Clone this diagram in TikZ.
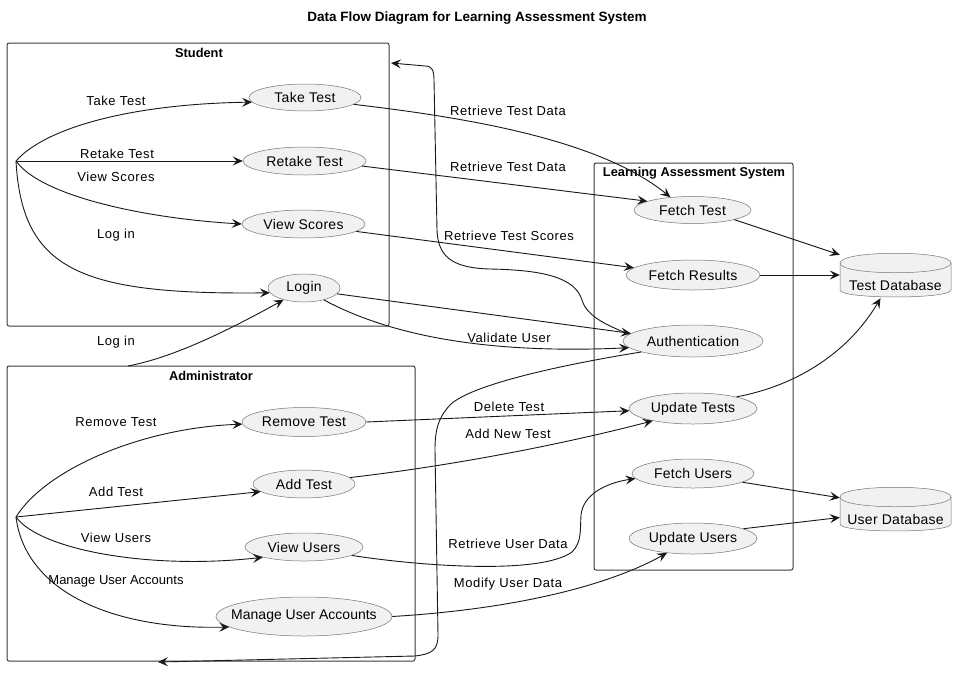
\documentclass[tikz,border=0pt]{standalone}
\usepackage{fontspec}
\setmainfont{Liberation Sans}
\newfontfamily\lblfont[LetterSpace=4.5]{Liberation Sans}
\newfontfamily\procfont[LetterSpace=2]{Liberation Sans}
\usetikzlibrary{arrows.meta,shapes.geometric,calc}
\definecolor{ln}{HTML}{181818}
\definecolor{fillc}{HTML}{F1F1F1}
\begin{document}
\begin{tikzpicture}[x=1pt,y=-1pt,
  >={Stealth[length=10pt,width=9pt,inset=4pt]},
  flow/.style={->,draw=ln,line width=0.9pt},
  proc/.style={ellipse,draw=ln!60,line width=0.5pt,fill=fillc,inner xsep=-30pt,inner ysep=-4pt,font=\procfont\fontsize{14}{16}\selectfont},
  lbl/.style={font=\lblfont\fontsize{13}{15}\selectfont,inner sep=0pt},
  ttl/.style={font=\bfseries\fontsize{13.5}{15}\selectfont,inner sep=0pt},
  ctl/.style={font=\bfseries\fontsize{12.8}{15}\selectfont,inner sep=0pt},
  cluster/.style={draw=ln!85,line width=1pt,rounded corners=2pt,inner sep=0pt},
  dbbox/.style={inner sep=0pt,minimum width=111pt,minimum height=44pt},
  dbtxt/.style={font=\procfont\fontsize{14}{16}\selectfont,inner sep=0pt}]
\fill[white] (0,0) rectangle (968,672);
\useasboundingbox (0,0) rectangle (968,672);

% title
\node[ttl] (title) at (477,18) {Data Flow Diagram for Learning Assessment System};

% clusters
\node[cluster,minimum width=382pt,minimum height=283pt] (student) at (198,184.5) {};
\node[ctl] (studentT) at (199,53) {Student};
\node[cluster,minimum width=408pt,minimum height=295pt] (admin) at (211,513.5) {};
\node[ctl] (adminT) at (211,376) {Administrator};
\node[cluster,minimum width=199pt,minimum height=407pt] (las) at (693.5,366.5) {};
\node[ctl] (lasT) at (694,173) {Learning Assessment System};

% student processes
\node[proc,minimum width=112pt,minimum height=27pt] (taketest) at (305,97.5) {Take Test};
\node[proc,minimum width=123pt,minimum height=28pt] (retake) at (304.5,161) {Retake Test};
\node[proc,minimum width=123pt,minimum height=28pt] (viewscores) at (303.5,224) {View Scores};
\node[proc,minimum width=72pt,minimum height=28pt] (login) at (304,288) {Login};

% admin processes
\node[proc,minimum width=124pt,minimum height=29pt] (removetest) at (304,422) {Remove Test};
\node[proc,minimum width=102pt,minimum height=28pt] (addtest) at (304,484) {Add Test};
\node[proc,minimum width=118pt,minimum height=28pt] (viewusers) at (304,547) {View Users};
\node[proc,minimum width=176pt,minimum height=39pt,font=\fontsize{14}{16}\selectfont] (manage) at (304,616.5) {Manage User Accounts};

% system processes
\node[proc,minimum width=117pt,minimum height=27pt] (fetchtest) at (692.5,210) {Fetch Test};
\node[proc,minimum width=134pt,minimum height=30pt] (fetchresults) at (693,275) {Fetch Results};
\node[proc,minimum width=140pt,minimum height=32pt] (auth) at (693,341) {Authentication};
\node[proc,minimum width=128pt,minimum height=31pt] (updatetests) at (693,408.5) {Update Tests};
\node[proc,minimum width=122pt,minimum height=29pt] (fetchusers) at (693,473.5) {Fetch Users};
\node[proc,minimum width=128pt,minimum height=31pt] (updateusers) at (693,538.5) {Update Users};

% databases
\node[dbbox] (tdb) at (895.5,275) {};
\filldraw[fill=fillc,draw=ln!60,line width=0.5pt]
  (840,263) .. controls (840,250) and (951,250) .. (951,263) -- (951,290)
  .. controls (951,299.3) and (840,299.3) .. (840,290) -- cycle;
\draw[ln!60,line width=0.5pt] (840,263) .. controls (840,276) and (951,276) .. (951,263);
\node[dbtxt] (tdbT) at (895.5,285) {Test Database};

\node[dbbox] (udb) at (895.5,509) {};
\filldraw[fill=fillc,draw=ln!60,line width=0.5pt]
  (840,497) .. controls (840,484) and (951,484) .. (951,497) -- (951,524)
  .. controls (951,533.3) and (840,533.3) .. (840,524) -- cycle;
\draw[ln!60,line width=0.5pt] (840,497) .. controls (840,510) and (951,510) .. (951,497);
\node[dbtxt] (udbT) at (895.5,519) {User Database};

% free ends
\coordinate (ssrc) at (16,161);
\coordinate (asrc) at (16,517);
\coordinate (stuIn) at (391,63);
\coordinate (admIn) at (158,662);
\coordinate (admTop) at (128,366);

% student flows
\draw[flow] (ssrc) .. controls (45,128) and (130,104) .. (taketest.185);
\draw[flow] (ssrc) -- (retake.west);
\draw[flow] (ssrc) .. controls (40,195) and (140,218) .. (viewscores.west);
\draw[flow] (ssrc) .. controls (22,270) and (80,295) .. (login.188);
\node[lbl] (l1) at (116,101) {Take Test};
\node[lbl] (l2) at (117,154) {Retake Test};
\node[lbl] (l3) at (116,177) {View Scores};
\node[lbl] (l4) at (116,235) {Log in};

% admin flows
\draw[flow] (admTop) .. controls (170,358) and (220,335) .. (login.210);
\node[lbl] (l5) at (116,342) {Log in};
\draw[flow] (asrc) .. controls (45,470) and (140,428) .. (removetest.182);
\draw[flow] (asrc) -- (addtest.190);
\draw[flow] (asrc) .. controls (40,550) and (150,570) .. (viewusers.194);
\draw[flow] (asrc) .. controls (25,590) and (110,630) .. (manage.188);
\node[lbl] (l6) at (116,422) {Remove Test};
\node[lbl] (l7) at (116,492) {Add Test};
\node[lbl] (l8) at (116,538) {View Users};
\node[lbl,font=\fontsize{13}{15}\selectfont] (l9) at (116,581) {Manage User Accounts};

% to the system
\draw[flow] (taketest.-8) .. controls (470,118) and (600,140) .. (fetchtest.150);
\node[lbl] (m1) at (508,111) {Retrieve Test Data};
\draw[flow] (retake.-5) -- (fetchtest.169);
\node[lbl] (m2) at (508,167) {Retrieve Test Data};
\draw[flow] (viewscores.-8) -- (fetchresults.173);
\node[lbl] (m3) at (509,236) {Retrieve Test Scores};
\draw[flow] (login.-10) -- (auth.173);
\draw[flow] (login.-31) .. controls (380,330) and (470,355) .. (auth.186);
\node[lbl] (m4) at (509,338) {Validate User};
\draw[flow] (removetest.east) -- (updatetests.182);
\node[lbl] (m5) at (509,407) {Delete Test};
\draw[flow] (addtest.8) .. controls (450,466) and (560,445) .. (updatetests.197);
\node[lbl] (m6) at (508,434) {Add New Test};
\draw[flow] (viewusers.-10) .. controls (420,566) and (540,575) .. (572,552)
  .. controls (582,542) and (580,530) .. (581,515)
  .. controls (583,495) and (605,483) .. (fetchusers.185);
\node[lbl] (m7) at (508,544) {Retrieve User Data};
\draw[flow] (manage.east) .. controls (500,610) and (600,590) .. (updateusers.209);
\node[lbl] (m8) at (508,584) {Modify User Data};

% authentication back to the actors
\draw[flow] (auth.174) .. controls (612,327) and (587,318) .. (582,300)
  .. controls (575,278) and (545,270) .. (490,269)
  .. controls (450,268) and (438,255) .. (437,230) -- (434,80)
  .. controls (434,70) and (432,66) .. (425,66) -- (stuIn);
\draw[flow] (auth.192) .. controls (560,365) and (470,385) .. (450,405)
  .. controls (438,418) and (435,430) .. (435,450) -- (438,635)
  .. controls (438,650) and (432,654) .. (415,656) -- (admIn);

% to the databases
\draw[flow] (fetchtest.-13) -- ($(tdb.north west)+(0,2)$);
\draw[flow] (fetchresults.east) -- (tdb.west);
\draw[flow] (updatetests.15) .. controls (800,385) and (850,350) .. ($(tdb.south)+(-15,1)$);
\draw[flow] (fetchusers.-10) -- ($(udb.north west)+(0,11)$);
\draw[flow] (updateusers.11) -- ($(udb.west)+(0,8.5)$);
\end{tikzpicture}
\end{document}
